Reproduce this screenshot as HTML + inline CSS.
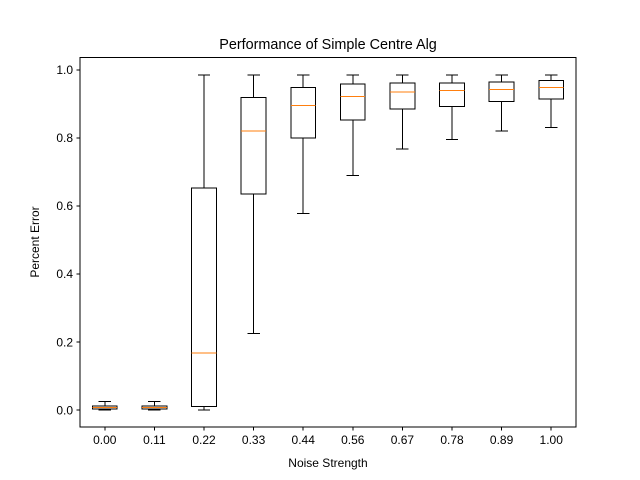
<!DOCTYPE html>
<html><head><meta charset="utf-8"><style>
body{margin:0;background:#fff}
svg{display:block;font-family:"Liberation Sans","DejaVu Sans",sans-serif}
#plot line,#plot rect{shape-rendering:crispEdges}
</style></head><body>
<svg id="chart" width="640" height="480" viewBox="0 0 640 480">
<rect width="640" height="480" fill="#fff"/>
<text x="328" y="49" font-size="14.4" text-anchor="middle">Performance of Simple Centre Alg</text>
<g id="plot"></g>
<rect x="80" y="57.6" width="496" height="369.6" fill="none" stroke="#000" stroke-width="1" shape-rendering="crispEdges"/>
<text x="328" y="467" font-size="12" text-anchor="middle">Noise Strength</text>
<text transform="translate(39,242) rotate(-90)" font-size="12" text-anchor="middle">Percent Error</text>
</svg>
<script>
const categories=["0.00","0.11","0.22","0.33","0.44","0.56","0.67","0.78","0.89","1.00"];
const whiskerLow=[0.0,0.0,0.0,0.225,0.578,0.69,0.767,0.795,0.82,0.83];
const q1=[0.003,0.003,0.01,0.635,0.80,0.852,0.885,0.892,0.907,0.915];
const median=[0.007,0.008,0.168,0.82,0.895,0.922,0.935,0.94,0.942,0.948];
const q3=[0.012,0.012,0.652,0.918,0.948,0.958,0.962,0.962,0.965,0.968];
const whiskerHigh=[0.025,0.025,0.985,0.985,0.985,0.985,0.985,0.985,0.985,0.985];
const yTicks=[0,0.2,0.4,0.6,0.8,1.0];
const yTickLabels=["0.0","0.2","0.4","0.6","0.8","1.0"];

const NS="http://www.w3.org/2000/svg";
const L=80,R=576,T=57.6,B=427.2;
const yMin=-0.0506,yMax=1.036;
const xs=i=>L+(i+0.5)*(R-L)/categories.length;
const ys=v=>B-(v-yMin)/(yMax-yMin)*(B-T);
const g=document.getElementById('plot');
function mk(tag,attrs){const e=document.createElementNS(NS,tag);for(const k in attrs)e.setAttribute(k,attrs[k]);g.appendChild(e);return e;}
const unit=(R-L)/categories.length;
categories.forEach((c,i)=>{
  const x=xs(i),hw=unit*0.25,cw=unit*0.125;
  let e;
  e=mk('line',{x1:x,x2:x,y1:ys(whiskerLow[i]),y2:ys(q1[i]),stroke:'#000'});
  
  
  e=mk('line',{x1:x,x2:x,y1:ys(q3[i]),y2:ys(whiskerHigh[i]),stroke:'#000'});
  
  
  e=mk('line',{x1:x-cw,x2:x+cw,y1:ys(whiskerLow[i]),y2:ys(whiskerLow[i]),stroke:'#000'});
  
  
  e=mk('line',{x1:x-cw,x2:x+cw,y1:ys(whiskerHigh[i]),y2:ys(whiskerHigh[i]),stroke:'#000'});
  
  
  e=mk('rect',{x:x-hw,y:ys(q3[i]),width:2*hw,height:Math.max(ys(q1[i])-ys(q3[i]),0.5),fill:'none',stroke:'#000'});
  
  
  e=mk('line',{x1:x-hw,x2:x+hw,y1:ys(median[i]),y2:ys(median[i]),stroke:'#ff7f0e'});
  
  
  e=mk('line',{x1:x,x2:x,y1:B,y2:B+3.5,stroke:'#000'});
  
  
  e=mk('text',{x:x,y:B+17,'font-size':12,'text-anchor':'middle'});
  e.textContent=c;
  
  
});
yTicks.forEach((v,i)=>{
  let e=mk('line',{x1:L-3.5,x2:L,y1:ys(v),y2:ys(v),stroke:'#000'});
  
  
  e=mk('text',{x:L-7,y:ys(v)+4.3,'font-size':12,'text-anchor':'end'});
  e.textContent=yTickLabels[i];
  
  
});
</script>
</body></html>
